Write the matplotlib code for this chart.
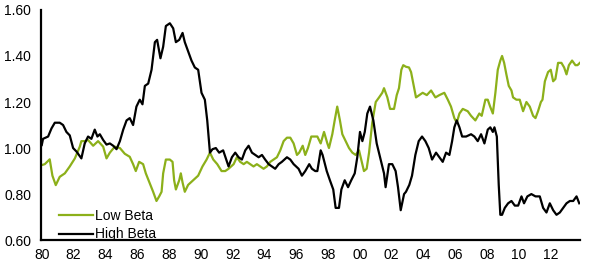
import matplotlib
matplotlib.use('Agg')
import matplotlib.pyplot as plt

plt.rcParams['font.family'] = ['Liberation Sans', 'DejaVu Sans']

# Datos (año, valor)
low_years = [1980.0, 1980.19, 1980.5, 1980.67, 1980.88, 1981.13, 1981.45, 1981.76, 1982.08, 1982.39,
             1982.49, 1982.7, 1982.91, 1983.23, 1983.54, 1983.86, 1984.07, 1984.28, 1984.59, 1984.91,
             1985.22, 1985.53, 1985.74, 1985.91, 1986.12, 1986.37, 1986.54, 1986.83, 1987.0, 1987.21,
             1987.38, 1987.53, 1987.63, 1987.8, 1988.05, 1988.22, 1988.32, 1988.43, 1988.64, 1988.74,
             1988.85, 1988.99, 1989.2, 1989.52, 1989.83, 1990.1, 1990.36, 1990.57, 1990.78, 1991.03,
             1991.3, 1991.53, 1991.74, 1992.06, 1992.26, 1992.47, 1992.69, 1992.89, 1993.1, 1993.31,
             1993.52, 1993.73, 1993.94, 1994.15, 1994.36, 1994.57, 1994.78, 1994.99, 1995.2, 1995.41,
             1995.62, 1995.83, 1996.04, 1996.18, 1996.4, 1996.56, 1996.73, 1996.94, 1997.19, 1997.32,
             1997.53, 1997.74, 1997.95, 1998.05, 1998.26, 1998.41, 1998.57, 1998.74, 1998.89, 1999.1,
             1999.31, 1999.52, 1999.73, 1999.94, 2000.08, 2000.25, 2000.42, 2000.57, 2000.77, 2000.99,
             2001.2, 2001.4, 2001.51, 2001.72, 2001.89, 2002.14, 2002.31, 2002.45, 2002.6, 2002.72,
             2002.89, 2003.08, 2003.21, 2003.35, 2003.52, 2003.73, 2003.94, 2004.2, 2004.47, 2004.74,
             2004.99, 2005.3, 2005.52, 2005.72, 2005.93, 2006.08, 2006.25, 2006.46, 2006.77, 2006.98,
             2007.25, 2007.5, 2007.65, 2007.88, 2008.03, 2008.18, 2008.35, 2008.51, 2008.66, 2008.82,
             2008.93, 2009.06, 2009.2, 2009.35, 2009.52, 2009.62, 2009.83, 2010.04, 2010.25, 2010.46,
             2010.67, 2010.88, 2011.03, 2011.19, 2011.37, 2011.47, 2011.62, 2011.82, 2011.99, 2012.14,
             2012.28, 2012.45, 2012.66, 2012.83, 2012.98, 2013.13, 2013.33, 2013.54, 2013.67, 2013.82]
low_beta = [0.926, 0.93, 0.951, 0.88, 0.839, 0.875, 0.89, 0.92, 0.955, 1.006,
            1.03, 1.03, 1.035, 1.01, 1.03, 1.006, 0.955, 0.98, 1.006, 1.0,
            0.975, 0.962, 0.93, 0.90, 0.94, 0.93, 0.89, 0.84, 0.81, 0.77,
            0.79, 0.81, 0.89, 0.95, 0.95, 0.94, 0.86, 0.82, 0.86, 0.89,
            0.85, 0.81, 0.84, 0.86, 0.88, 0.92, 0.95, 0.98, 0.95, 0.93,
            0.90, 0.90, 0.91, 0.93, 0.96, 0.94, 0.93, 0.94, 0.93, 0.92,
            0.93, 0.92, 0.91, 0.92, 0.94, 0.95, 0.96, 0.99, 1.03, 1.045,
            1.045, 1.02, 0.97, 0.98, 1.01, 0.97, 1.0, 1.05, 1.05, 1.05,
            1.02, 1.07, 1.02, 1.0, 1.06, 1.12, 1.18, 1.12, 1.06, 1.03,
            1.0, 0.98, 0.97, 0.99, 0.95, 0.90, 0.91, 0.98, 1.11, 1.20,
            1.22, 1.24, 1.26, 1.22, 1.17, 1.17, 1.23, 1.26, 1.34, 1.36,
            1.353, 1.35, 1.33, 1.28, 1.22, 1.23, 1.24, 1.23, 1.25, 1.22,
            1.23, 1.24, 1.21, 1.18, 1.13, 1.11, 1.15, 1.17, 1.16, 1.14,
            1.12, 1.15, 1.14, 1.21, 1.21, 1.18, 1.15, 1.24, 1.34, 1.38,
            1.40, 1.37, 1.32, 1.27, 1.25, 1.22, 1.21, 1.21, 1.16, 1.20,
            1.18, 1.14, 1.13, 1.16, 1.20, 1.21, 1.29, 1.33, 1.34, 1.29,
            1.30, 1.37, 1.37, 1.35, 1.32, 1.36, 1.38, 1.36, 1.36, 1.37]

high_years = [1980.0, 1980.08, 1980.4, 1980.61, 1980.82, 1981.13, 1981.34, 1981.55, 1981.76, 1981.97,
              1982.18, 1982.49, 1982.7, 1982.91, 1983.12, 1983.33, 1983.5, 1983.65, 1983.86, 1984.07,
              1984.28, 1984.49, 1984.7, 1984.91, 1985.12, 1985.33, 1985.53, 1985.74, 1985.95, 1986.16,
              1986.33, 1986.48, 1986.69, 1986.9, 1987.11, 1987.25, 1987.46, 1987.63, 1987.8, 1988.05,
              1988.26, 1988.43, 1988.64, 1988.85, 1988.99, 1989.2, 1989.41, 1989.62, 1989.83, 1990.04,
              1990.25, 1990.4, 1990.57, 1990.73, 1990.94, 1991.15, 1991.4, 1991.74, 1991.95, 1992.16,
              1992.37, 1992.58, 1992.79, 1993.0, 1993.21, 1993.42, 1993.63, 1993.84, 1994.04, 1994.26,
              1994.47, 1994.67, 1994.89, 1995.09, 1995.41, 1995.62, 1995.83, 1996.14, 1996.35, 1996.56,
              1996.81, 1996.98, 1997.19, 1997.32, 1997.53, 1997.65, 1997.91, 1998.11, 1998.32, 1998.47,
              1998.68, 1998.83, 1999.04, 1999.25, 1999.45, 1999.67, 1999.83, 2000.0, 2000.15, 2000.3,
              2000.46, 2000.63, 2000.84, 2001.05, 2001.3, 2001.51, 2001.61, 2001.82, 2002.03, 2002.24,
              2002.39, 2002.56, 2002.77, 2002.89, 2003.1, 2003.27, 2003.48, 2003.69, 2003.9, 2004.11,
              2004.32, 2004.53, 2004.78, 2004.99, 2005.2, 2005.41, 2005.62, 2005.79, 2005.93, 2006.08,
              2006.25, 2006.42, 2006.67, 2006.98, 2007.19, 2007.4, 2007.61, 2007.82, 2008.03, 2008.19,
              2008.35, 2008.45, 2008.6, 2008.72, 2008.82, 2008.93, 2009.1, 2009.31, 2009.52, 2009.73,
              2009.94, 2010.15, 2010.31, 2010.52, 2010.77, 2011.03, 2011.3, 2011.51, 2011.72, 2011.93,
              2012.14, 2012.35, 2012.56, 2012.77, 2012.98, 2013.19, 2013.4, 2013.61, 2013.78]
high_beta = [1.013, 1.04, 1.05, 1.085, 1.11, 1.11, 1.10, 1.07, 1.055, 1.0,
             0.985, 0.955, 1.02, 1.05, 1.04, 1.08, 1.05, 1.06, 1.035, 1.015,
             1.02, 1.01, 0.995, 1.03, 1.08, 1.12, 1.13, 1.10, 1.18, 1.21,
             1.19, 1.27, 1.28, 1.34, 1.46, 1.47, 1.39, 1.44, 1.53, 1.542,
             1.52, 1.46, 1.47, 1.50, 1.46, 1.42, 1.38, 1.35, 1.34, 1.24,
             1.21, 1.12, 0.98, 0.995, 1.0, 0.98, 0.99, 0.92, 0.96, 0.98,
             0.96, 0.95, 0.99, 1.01, 0.98, 0.97, 0.96, 0.97, 0.95, 0.93,
             0.92, 0.91, 0.93, 0.94, 0.96, 0.95, 0.93, 0.91, 0.88, 0.90,
             0.93, 0.91, 0.90, 0.90, 0.99, 0.97, 0.90, 0.86, 0.82, 0.74,
             0.74, 0.82, 0.86, 0.83, 0.86, 0.89, 0.96, 1.07, 1.03, 1.07,
             1.15, 1.18, 1.12, 1.02, 0.95, 0.89, 0.83, 0.93, 0.93, 0.90,
             0.83, 0.73, 0.80, 0.81, 0.84, 0.88, 0.97, 1.03, 1.05, 1.03,
             1.0, 0.95, 0.98, 0.96, 0.94, 0.98, 0.97, 1.03, 1.09, 1.12,
             1.09, 1.05, 1.05, 1.06, 1.05, 1.03, 1.06, 1.02, 1.08, 1.09,
             1.07, 1.09, 1.05, 0.84, 0.71, 0.71, 0.74, 0.76, 0.77, 0.75,
             0.75, 0.79, 0.76, 0.79, 0.80, 0.79, 0.79, 0.74, 0.72, 0.76,
             0.73, 0.71, 0.72, 0.74, 0.76, 0.77, 0.77, 0.79, 0.76]

year_ticks = list(range(1980, 2013, 2))
y_ticks = [0.60, 0.80, 1.00, 1.20, 1.40, 1.60]

fig = plt.figure(figsize=(6, 2.68), dpi=100)
ax = fig.add_axes([0.068, 0.104, 0.899, 0.859])

ax.plot(low_years, low_beta, color='#8CB01A', lw=1.6, label='Low Beta')
ax.plot(high_years, high_beta, color='black', lw=1.6, label='High Beta')

ax.set_xlim(1979.94, 2013.84)
ax.set_ylim(0.6, 1.6)
ax.set_xticks(year_ticks)
ax.set_xticklabels(['%02d' % (y % 100) for y in year_ticks])
ax.set_yticks(y_ticks)
ax.set_yticklabels(['%.2f' % v for v in y_ticks])
ax.tick_params(length=0, labelsize=10, colors='black')
ax.tick_params(axis='y', pad=7)
ax.tick_params(axis='x', pad=6)

for s in ['top', 'right']:
    ax.spines[s].set_visible(False)
for s in ['left', 'bottom']:
    ax.spines[s].set_linewidth(1.6)

ax.legend(loc='lower left', bbox_to_anchor=(0.01, -0.06), frameon=False, fontsize=10,
          handlelength=2.5, handletextpad=0.1, labelspacing=0.35)

fig.savefig('out.png', dpi=100)
